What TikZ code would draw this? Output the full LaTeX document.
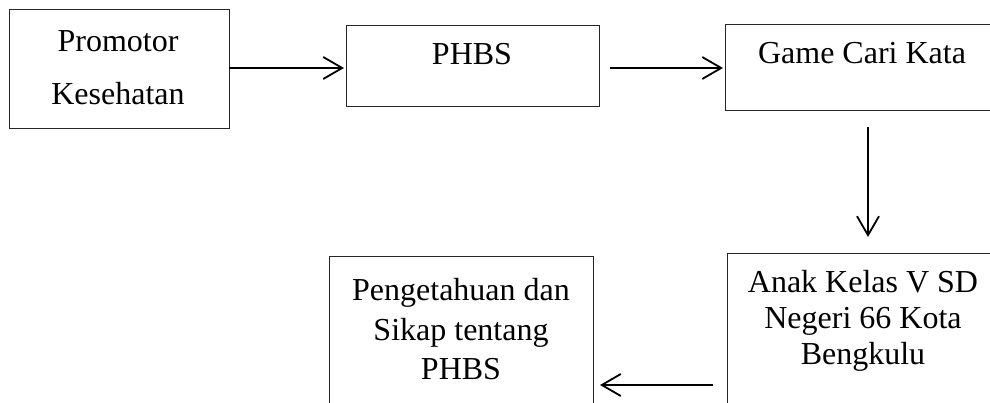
\documentclass[tikz,border=0pt]{standalone}
\usepackage{fontspec}
\setmainfont{Liberation Serif}
\usetikzlibrary{arrows.meta}
\begin{document}
\begin{tikzpicture}[x=1pt,y=-1pt,
  box/.style={draw=black!85, line width=1pt, inner sep=0pt, outer sep=0pt},
  txt/.style={anchor=base, inner sep=0pt, font=\fontsize{32}{38}\selectfont},
  arr/.style={line width=1.8pt, -{Straight Barb[length=19pt,width=22pt,line width=1.8pt]}}]
\useasboundingbox (0,0) rectangle (990,403);
\clip (0,0) rectangle (990,403);
\fill[white] (0,0) rectangle (990,403);
% boxes
\node[box, minimum width=220pt, minimum height=119pt] (b1) at (119,69.5) {};
\node[box, minimum width=253pt, minimum height=81pt] (b2) at (472.5,66.5) {};
\node[box, minimum width=275pt, minimum height=86pt] (b3) at (862.5,68) {};
\node[box, minimum width=273pt, minimum height=166pt] (b4) at (863.5,337) {};
\node[box, minimum width=264pt, minimum height=163pt] (b5) at (461,338.5) {};
% texts
\node[txt] (t1a) at (118,52) {Promotor};
\node[txt] (t1b) at (118,105) {Kesehatan};
\node[txt] (t2) at (472,65) {PHBS};
\node[txt] (t3) at (862,64) {Game Cari Kata};
\node[txt] (t4a) at (863,292) {Anak Kelas V SD};
\node[txt] (t4b) at (863,328) {Negeri 66 Kota};
\node[txt] (t4c) at (863,364) {Bengkulu};
\node[txt] (t5a) at (461,300) {Pengetahuan dan};
\node[txt] (t5b) at (461,340) {Sikap tentang};
\node[txt] (t5c) at (461,379) {PHBS};
% connectors
\coordinate (hy1) at (0,68);
\coordinate (vx) at (868,0);
\coordinate (hy2) at (0,385);
\draw[arr, shorten >=2pt] (b1.east |- hy1) -- (b2.west |- hy1);
\draw[arr, shorten <=11pt, shorten >=2pt] (b2.east |- hy1) -- (b3.west |- hy1);
\draw[arr, shorten <=16pt, shorten >=17pt] (vx |- b3.south) -- (vx |- b4.north);
\draw[arr, shorten <=14pt, shorten >=7pt] (b4.west |- hy2) -- (b5.east |- hy2);
\end{tikzpicture}
\end{document}
